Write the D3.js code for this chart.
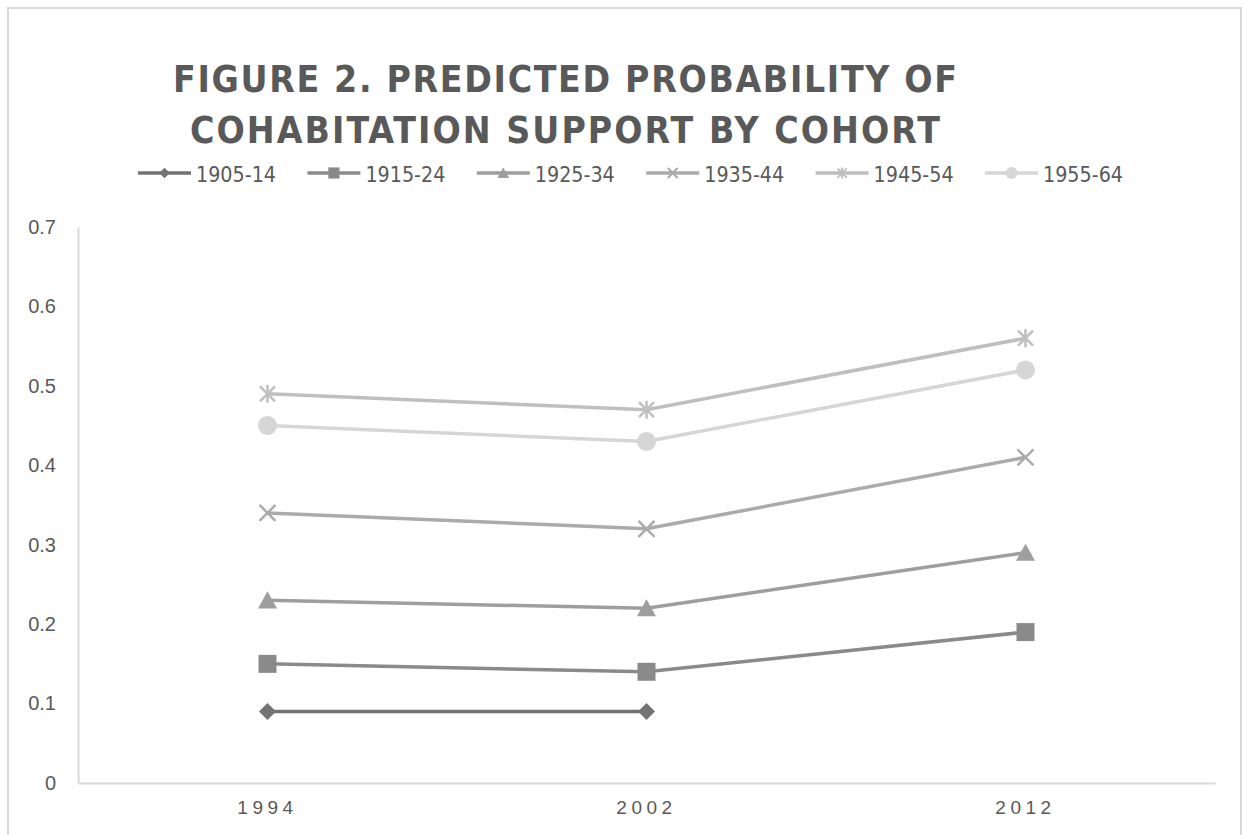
<!DOCTYPE html>
<html>
<head>
<meta charset="utf-8">
<script src="https://cdn.jsdelivr.net/npm/d3@7"></script>
<style>
  body { margin: 0; background: #fff; }
</style>
</head>
<body>
<div id="chart"></div>
<script>
// data
const years = ["1994", "2002", "2012"];
const cohorts = ["1905-14", "1915-24", "1925-34", "1935-44", "1945-54", "1955-64"];
const c1905 = [0.09, 0.09, null];
const c1915 = [0.15, 0.14, 0.19];
const c1925 = [0.23, 0.22, 0.29];
const c1935 = [0.34, 0.32, 0.41];
const c1945 = [0.49, 0.47, 0.56];
const c1955 = [0.45, 0.43, 0.52];
const yTicks = [0, 0.1, 0.2, 0.3, 0.4, 0.5, 0.6, 0.7];
const titleLines = ["FIGURE 2. PREDICTED PROBABILITY OF", "COHABITATION SUPPORT BY COHORT"];

const seriesValues = [c1905, c1915, c1925, c1935, c1945, c1955];
const colors = ["#737373", "#8a8a8a", "#9e9e9e", "#ababab", "#bfbfbf", "#d6d6d6"];

// marker shapes (size = half width)
const diamond = { draw(ctx, r) { ctx.moveTo(0, -r); ctx.lineTo(r, 0); ctx.lineTo(0, r); ctx.lineTo(-r, 0); ctx.closePath(); } };
const square = { draw(ctx, r) { ctx.rect(-r, -r, 2 * r, 2 * r); } };
const triangle = { draw(ctx, r) { ctx.moveTo(0, -r * 0.95); ctx.lineTo(r, r * 0.85); ctx.lineTo(-r, r * 0.85); ctx.closePath(); } };
const cross = { draw(ctx, r) { ctx.moveTo(-r, -r); ctx.lineTo(r, r); ctx.moveTo(r, -r); ctx.lineTo(-r, r); } };
const star = { draw(ctx, r) {
  ctx.moveTo(-r, -r); ctx.lineTo(r, r); ctx.moveTo(r, -r); ctx.lineTo(-r, r);
  ctx.moveTo(0, -r * 1.2); ctx.lineTo(0, r * 1.2);
} };
const circle = { draw(ctx, r) { ctx.moveTo(r, 0); ctx.arc(0, 0, r, 0, 2 * Math.PI); } };
const shapes = [diamond, square, triangle, cross, star, circle];
const filled = [true, true, true, false, false, true];
const markSize = [8.5, 9, 9.5, 8, 7.5, 9.5];

let width = 1244;
let height = 835;
let margin = { "top": 227, "bottom": 52, "right": 29, "left": 78 };

let svg = d3.select("#chart").append("svg").attr("width", width).attr("height", height);

// outer border
svg.append("rect")
  .attr("x", 8).attr("y", 8)
  .attr("width", 1233).attr("height", 840)
  .attr("fill", "none").attr("stroke", "#d9d9d9").attr("stroke-width", 2);

// title
const titleWidth = [784, 750];
svg.append("g").selectAll("text")
  .data(titleLines)
  .enter()
  .append("text")
  .attr("x", 565)
  .attr("y", function(d, i) { return 92 + i * 51; })
  .attr("text-anchor", "middle")
  .attr("font-family", "'DejaVu Sans Condensed', 'Liberation Sans', sans-serif")
  .attr("font-weight", "bold")
  .attr("font-size", "37px")
  .attr("textLength", function(d, i) { return titleWidth[i]; })
  .attr("lengthAdjust", "spacing")
  .attr("fill", "#595959")
  .text(function(d) { return d; });

// scales
let xScale = d3.scaleBand()
  .domain(years)
  .range([margin.left, width - margin.right]);

let yScale = d3.scaleLinear()
  .domain([0, 0.7])
  .range([height - margin.bottom, margin.top]);

// axes
let axisx = d3.axisBottom(xScale).tickSize(0).tickPadding(18);
let axisy = d3.axisLeft(yScale).tickValues(yTicks).tickSize(0).tickPadding(22)
  .tickFormat(function(d) { return d === 0 ? "0" : d3.format(".1f")(d); });

let gx = svg.append("g")
  .attr("transform", "translate(0," + (height - margin.bottom) + ")")
  .call(axisx);
gx.select(".domain").attr("stroke", "#d9d9d9").attr("stroke-width", 2);
gx.selectAll("text")
  .attr("font-family", "'Liberation Sans', sans-serif")
  .attr("font-size", "19px")
  .attr("letter-spacing", "4.5px")
  .attr("fill", "#595959");

let gy = svg.append("g")
  .attr("transform", "translate(" + margin.left + ",0)")
  .call(axisy);
gy.select(".domain").attr("stroke", "#d9d9d9").attr("stroke-width", 2);
gy.selectAll("text")
  .attr("font-family", "'Liberation Sans', sans-serif")
  .attr("font-size", "20px")
  .attr("fill", "#595959");

// lines and markers
let line = d3.line()
  .defined(function(d) { return d[1] !== null; })
  .x(function(d) { return xScale(d[0]) + xScale.bandwidth() / 2; })
  .y(function(d) { return yScale(d[1]); });

seriesValues.forEach(function(vals, s) {
  let pts = years.map(function(y, i) { return [y, vals[i]]; });
  svg.append("path")
    .datum(pts)
    .attr("fill", "none")
    .attr("stroke", colors[s])
    .attr("stroke-width", 3.5)
    .attr("d", line);
  svg.append("g")
    .selectAll("path")
    .data(pts.filter(function(d) { return d[1] !== null; }))
    .enter()
    .append("path")
    .attr("transform", function(d) { return "translate(" + (xScale(d[0]) + xScale.bandwidth() / 2) + "," + yScale(d[1]) + ")"; })
    .attr("d", d3.symbol().type(shapes[s]).size(markSize[s]))
    .attr("fill", filled[s] ? colors[s] : "none")
    .attr("stroke", colors[s])
    .attr("stroke-width", filled[s] ? 0 : 2.5);
});

// legend
let legend = svg.append("g").selectAll("g")
  .data(cohorts)
  .enter()
  .append("g")
  .attr("transform", function(d, i) { return "translate(" + (138 + i * 169.4) + ",173)"; });

legend.append("line")
  .attr("x1", 0).attr("x2", 53).attr("y1", 0).attr("y2", 0)
  .attr("stroke", function(d, i) { return colors[i]; })
  .attr("stroke-width", 3.5);

legend.append("path")
  .attr("transform", "translate(26.5,0)")
  .attr("d", function(d, i) { return d3.symbol().type(shapes[i]).size(markSize[i] * 0.62)(); })
  .attr("fill", function(d, i) { return filled[i] ? colors[i] : "none"; })
  .attr("stroke", function(d, i) { return colors[i]; })
  .attr("stroke-width", function(d, i) { return filled[i] ? 0 : 2; });

legend.append("text")
  .attr("x", 58)
  .attr("y", 9)
  .attr("font-family", "'DejaVu Sans Condensed', 'Liberation Sans', sans-serif")
  .attr("font-size", "22px")
  .attr("textLength", 80)
  .attr("lengthAdjust", "spacingAndGlyphs")
  .attr("fill", "#595959")
  .text(function(d) { return d; });
</script>
</body>
</html>
